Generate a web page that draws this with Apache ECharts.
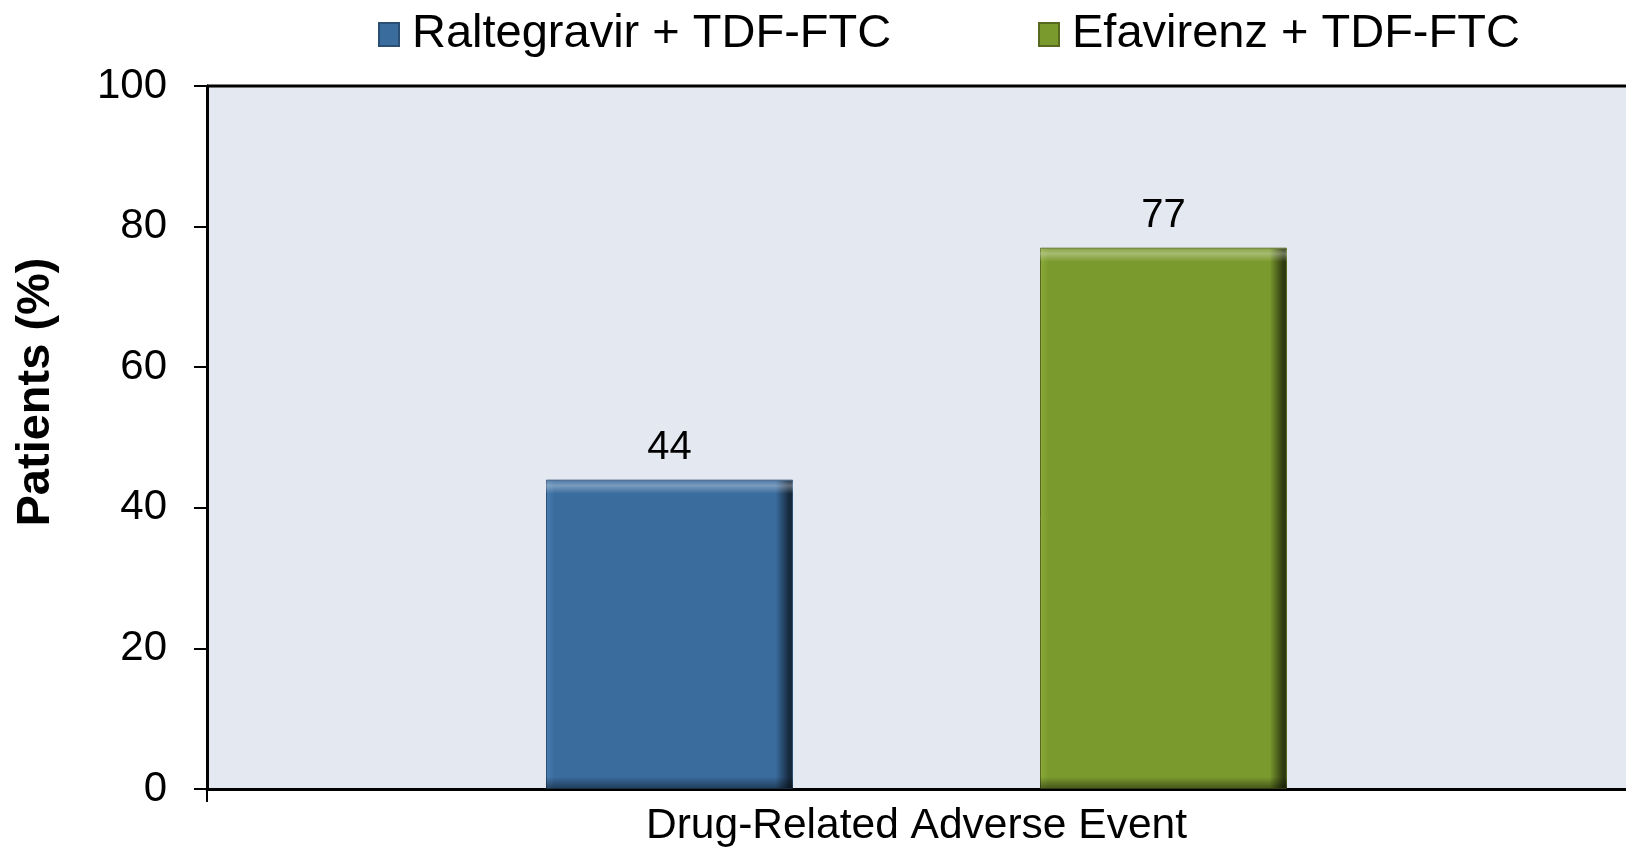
<!DOCTYPE html>
<html>
<head>
<meta charset="utf-8">
<script src="https://cdn.jsdelivr.net/npm/echarts@6/dist/echarts.min.js"></script>
<style>html,body{margin:0;padding:0;background:#fff;overflow:hidden;}#c{width:1626px;height:851px;}</style>
</head>
<body>
<div id="c"></div>
<script>
const categories = ['Drug-Related Adverse Event'];
const seriesNames = ['Raltegravir + TDF-FTC', 'Efavirenz + TDF-FTC'];
const raltegravirValues = [44];
const efavirenzValues = [77];
const yTicks = [0, 20, 40, 60, 80, 100];
const yTitle = 'Patients (%)';

const FONT = '"Liberation Sans", Arial, sans-serif';
const blue = '#3A6C9E', blueDark = '#16283C', blueLight = '#4A7DB0';
const green = '#7B9A2E', greenDark = '#2E3A10', greenLight = '#8AAA3A';
const PLOT_H = 703; // approx plot height in px, for bevel band sizing

const chart = echarts.init(document.getElementById('c'));
function sideBevel(base, light, dark) {
  return {
    type: 'linear', x: 0, y: 0, x2: 1, y2: 0,
    colorStops: [
      {offset: 0, color: light}, {offset: 0.035, color: base},
      {offset: 0.93, color: base}, {offset: 0.985, color: dark}, {offset: 1, color: dark}
    ]
  };
}
function topBottomBevel(value) {
  const h = value / yTicks[yTicks.length - 1] * PLOT_H;
  const p = px => px / h;
  return {
    type: 'linear', x: 0, y: 0, x2: 0, y2: 1,
    colorStops: [
      {offset: 0, color: 'rgba(255,255,255,0.08)'},
      {offset: p(6), color: 'rgba(255,255,255,0.32)'},
      {offset: p(14), color: 'rgba(255,255,255,0)'},
      {offset: 1 - p(12), color: 'rgba(0,0,0,0)'},
      {offset: 1 - p(3), color: 'rgba(0,0,0,0.35)'},
      {offset: 1, color: 'rgba(0,0,0,0.45)'}
    ]
  };
}
const legendCommon = {
  top: 6, itemWidth: 20, itemHeight: 23, icon: 'rect',
  textStyle: {fontFamily: FONT, fontSize: 47, color: '#000', padding: [0, 0, 0, 8]}
};
const titleGraphic = {
  type: 'text', x: 36, y: 392, rotation: Math.PI / 2,
  style: {text: yTitle, font: 'bold 47px ' + FONT, fill: '#000', textAlign: 'center', textVerticalAlign: 'middle'}
};
chart.setOption({
  animation: false,
  textStyle: {fontFamily: FONT},
  legend: [
    Object.assign({left: 373, data: [seriesNames[0]]}, legendCommon),
    Object.assign({left: 1033, data: [seriesNames[1]]}, legendCommon)
  ],
  grid: {
    left: 207, top: 86, right: -3, bottom: 62,
    show: true, backgroundColor: '#E4E9F1', borderWidth: 0
  },
  xAxis: [{
    type: 'category', data: categories, position: 'bottom',
    axisLine: {onZero: false, lineStyle: {color: '#000', width: 3}},
    axisTick: {show: false},
    axisLabel: {fontSize: 42.5, color: '#000', margin: 16, fontFamily: FONT}
  }, {
    type: 'category', data: categories, position: 'top', show: false
  }],
  yAxis: {
    type: 'value', min: yTicks[0], max: yTicks[yTicks.length - 1], interval: 20,
    axisLine: {show: true, lineStyle: {color: '#000', width: 3}},
    axisTick: {show: true, length: 13, lineStyle: {color: '#000', width: 2}},
    axisLabel: {fontSize: 42, color: '#000', margin: 40, fontFamily: FONT},
    splitLine: {show: false}
  },
  graphic: [titleGraphic],
  series: [
    {
      name: seriesNames[0], type: 'bar', data: raltegravirValues, barWidth: 247, barGap: '100%',
      itemStyle: {color: sideBevel(blue, blueLight, blueDark), borderColor: '#2A4E74', borderWidth: 1},
      label: {show: true, position: 'top', distance: 12, fontSize: 40, color: '#000', fontFamily: FONT}
    },
    {
      name: seriesNames[1], type: 'bar', data: efavirenzValues, barWidth: 247,
      itemStyle: {color: sideBevel(green, greenLight, greenDark), borderColor: '#56691F', borderWidth: 1},
      label: {show: true, position: 'top', distance: 12, fontSize: 40, color: '#000', fontFamily: FONT}
    },
    {
      name: 'bevel-a', type: 'bar', xAxisIndex: 1, silent: true, barWidth: 247, barGap: '100%',
      data: raltegravirValues.map(v => ({value: v, itemStyle: {color: topBottomBevel(v)}}))
    },
    {
      name: 'bevel-b', type: 'bar', xAxisIndex: 1, silent: true, barWidth: 247,
      data: efavirenzValues.map(v => ({value: v, itemStyle: {color: topBottomBevel(v)}}))
    }
  ]
});
// boundary tick of the category axis and the top frame line, placed via the axes' own conversion
const p0 = chart.convertToPixel({xAxisIndex: 0, yAxisIndex: 0}, [0, yTicks[0]]);
const yTop = chart.convertToPixel({yAxisIndex: 0}, yTicks[yTicks.length - 1]);
const bandHalf = chart.getModel().getComponent('xAxis', 0).axis.getBandWidth() / 2;
const xLeft = p0[0] - bandHalf;
chart.setOption({
  graphic: [titleGraphic, {
    type: 'line', silent: true,
    shape: {x1: xLeft, y1: p0[1], x2: xLeft, y2: p0[1] + 13},
    style: {stroke: '#000', lineWidth: 2}
  }, {
    type: 'line', silent: true,
    shape: {x1: xLeft, y1: yTop, x2: chart.getWidth() + 5, y2: yTop},
    style: {stroke: '#000', lineWidth: 3}
  }]
});
</script>
</body>
</html>
